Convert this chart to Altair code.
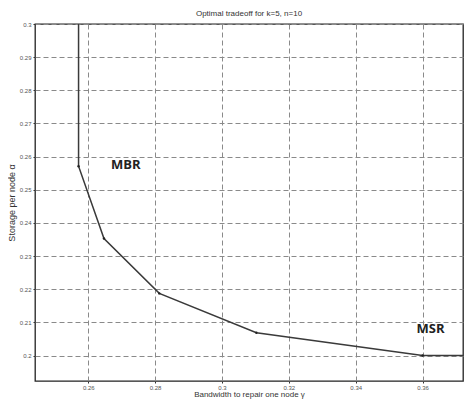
import altair as alt
import pandas as pd

# tradeoff curve (gamma = repair bandwidth, alpha = storage per node)
gamma = [0.2571, 0.2571, 0.2647, 0.28125, 0.3103, 0.36, 0.38]
alpha = [0.32, 0.2571, 0.2353, 0.21875, 0.2069, 0.2, 0.2]
corner_gamma = [0.2571, 0.2647, 0.28125, 0.3103, 0.36]
corner_alpha = [0.2571, 0.2353, 0.21875, 0.2069, 0.2]

label_text = ["MBR", "MSR"]
label_gamma = [0.2712, 0.3624]
label_alpha = [0.2575, 0.2080]

x_ticks = [0.26, 0.28, 0.30, 0.32, 0.34, 0.36]
y_ticks = [0.20, 0.21, 0.22, 0.23, 0.24, 0.25, 0.26, 0.27, 0.28, 0.29, 0.30]

df = pd.DataFrame({"gamma": gamma, "alpha": alpha, "i": list(range(len(gamma)))})
dc = pd.DataFrame({"gamma": corner_gamma, "alpha": corner_alpha})
dl = pd.DataFrame({"text": label_text, "gamma": label_gamma, "alpha": label_alpha})

FONT = "Liberation Sans"
xs = alt.Scale(domain=[0.24407, 0.37209], nice=False, zero=False)
ys = alt.Scale(domain=[0.19233, 0.3], nice=False, zero=False)

common = dict(labelFontSize=6, labelColor="#555", labelFont=FONT, labelOverlap=False,
              tickColor="#333", domain=False, tickCount=30,
              titleFont=FONT, titleColor="#333", titleFontWeight="normal",
              grid=True, gridColor="#8a8a8a", gridDash=[5, 3], gridWidth=1)

xaxis = alt.Axis(values=x_ticks, format="~g", title="Bandwidth to repair one node γ",
                 labelPadding=1, tickSize=2, titleFontSize=8, titlePadding=0, **common)
yaxis = alt.Axis(values=y_ticks, format="~g", title="Storage per node α",
                 labelPadding=2, tickSize=2, titleFontSize=9, titlePadding=3, **common)

line = alt.Chart(df).mark_line(color="#3a3a3a", strokeWidth=1.5, clip=True).encode(
    x=alt.X("gamma:Q", scale=xs, axis=xaxis),
    y=alt.Y("alpha:Q", scale=ys, axis=yaxis),
    order="i:Q",
)
pts = alt.Chart(dc).mark_point(filled=True, size=6, color="#222", opacity=1).encode(
    x=alt.X("gamma:Q", scale=xs), y=alt.Y("alpha:Q", scale=ys)
)
txt = alt.Chart(dl).mark_text(font="Open Sans", fontSize=13, fontWeight="bold", color="#222").encode(
    x=alt.X("gamma:Q", scale=xs), y=alt.Y("alpha:Q", scale=ys), text="text:N"
)

chart = (line + pts + txt).properties(
    width=428, height=357,
    autosize=alt.AutoSizeParams(type="none"),
    padding={"left": 27, "top": 16, "right": 1, "bottom": 19},
    title=alt.TitleParams("Optimal tradeoff for k=5, n=10", fontSize=8, font=FONT,
                          color="#333", fontWeight="normal", anchor="middle", offset=3),
).configure_view(stroke="#222", strokeWidth=1.3)

chart.save("out.html", embed_options={"renderer": "svg", "actions": False})
